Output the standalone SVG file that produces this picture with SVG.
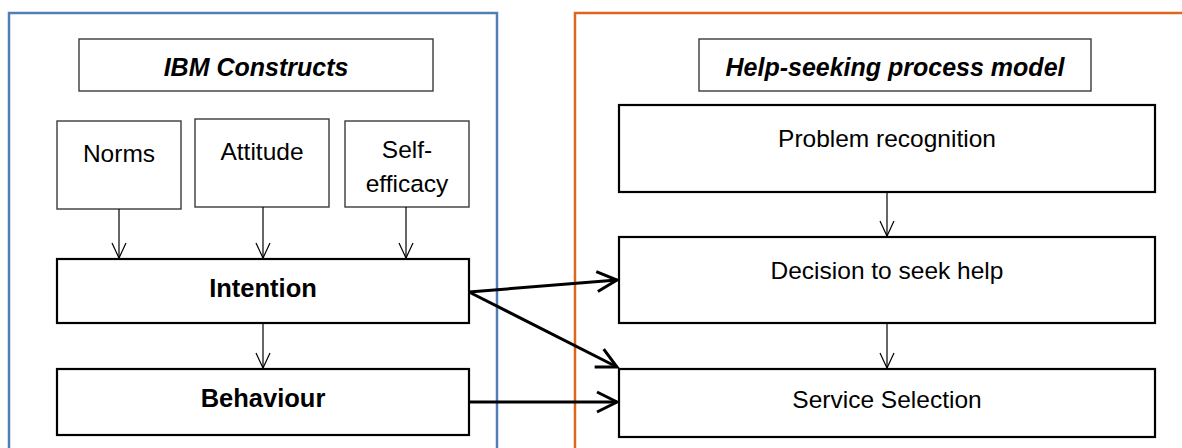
<svg xmlns="http://www.w3.org/2000/svg" width="1182" height="448" viewBox="0 0 1182 448">
<style>
.thin{fill:#fff;stroke:#3a3a3a;stroke-width:1.4}
.thick{fill:#fff;stroke:#000;stroke-width:2.2}
.t{font-family:"Liberation Sans",Arial,sans-serif;font-size:24.5px;fill:#000;text-anchor:middle}
.b{font-weight:bold;font-size:25.5px}
.bi{font-weight:bold;font-style:italic;font-size:25px}
.c1{fill:none;stroke:#000;stroke-width:1.2}
.c2{fill:none;stroke:#000;stroke-width:3}
</style>
<defs>
<marker id="ah" viewBox="-17 -9 18 18" refX="0" refY="0" markerWidth="18" markerHeight="18" markerUnits="userSpaceOnUse" orient="auto" overflow="visible">
<path d="M-15,-7 L0,0 L-15,7" fill="none" stroke="#000" stroke-width="1.2"/>
</marker>
<marker id="ahb" viewBox="-22 -12 24 24" refX="0" refY="0" markerWidth="24" markerHeight="24" markerUnits="userSpaceOnUse" orient="auto" overflow="visible">
<path d="M-20,-10 L0,0 L-20,10" fill="none" stroke="#000" stroke-width="3"/>
</marker>
</defs>
<rect width="1182" height="448" fill="#fff"/>
<g id="frame-ibm"><rect x="9" y="13" width="488" height="500" fill="none" stroke="#4F7FB5" stroke-width="2.5"/></g>
<g id="frame-help"><rect x="575" y="13" width="700" height="500" fill="none" stroke="#DD661C" stroke-width="2.5"/></g>
<g id="ibm-title"><rect class="thin" x="79" y="39" width="354" height="52"/><text class="t bi" x="256" y="76">IBM Constructs</text></g>
<g id="norms"><rect class="thin" x="57" y="121" width="124" height="88"/><text class="t" x="119" y="162">Norms</text></g>
<g id="attitude"><rect class="thin" x="195" y="119" width="134" height="88"/><text class="t" x="262" y="160">Attitude</text></g>
<g id="self-efficacy"><rect class="thin" x="345" y="121" width="124" height="86"/><text class="t" x="407" y="158">Self-</text><text class="t" x="407" y="192">efficacy</text></g>
<g id="intention"><rect class="thick" x="57" y="259" width="412" height="64"/><text class="t b" x="263" y="297">Intention</text></g>
<g id="behaviour"><rect class="thick" x="57" y="369" width="412" height="66"/><text class="t b" x="263" y="407">Behaviour</text></g>
<g id="help-title"><rect class="thin" x="699" y="39" width="392" height="52"/><text class="t bi" x="895" y="76">Help-seeking process model</text></g>
<g id="problem"><rect class="thick" x="619" y="105" width="536" height="87"/><text class="t" x="887" y="147">Problem recognition</text></g>
<g id="decision"><rect class="thick" x="619" y="237" width="536" height="86"/><text class="t" x="887" y="279">Decision to seek help</text></g>
<g id="service"><rect class="thick" x="619" y="369" width="536" height="68"/><text class="t" x="887" y="408">Service Selection</text></g>
<g id="connectors">
<line class="c1" x1="119" y1="209" x2="119" y2="258" marker-end="url(#ah)"/>
<line class="c1" x1="263" y1="207" x2="263" y2="258" marker-end="url(#ah)"/>
<line class="c1" x1="406" y1="207" x2="406" y2="258" marker-end="url(#ah)"/>
<line class="c1" x1="263" y1="323" x2="263" y2="368" marker-end="url(#ah)"/>
<line class="c1" x1="887" y1="192" x2="887" y2="236" marker-end="url(#ah)"/>
<line class="c1" x1="887" y1="323" x2="887" y2="368" marker-end="url(#ah)"/>
<line class="c2" x1="469" y1="292" x2="617" y2="280" marker-end="url(#ahb)"/>
<line class="c2" x1="469" y1="292" x2="617" y2="367" marker-end="url(#ahb)"/>
<line class="c2" x1="469" y1="402" x2="617" y2="402" marker-end="url(#ahb)"/>
</g>
</svg>
